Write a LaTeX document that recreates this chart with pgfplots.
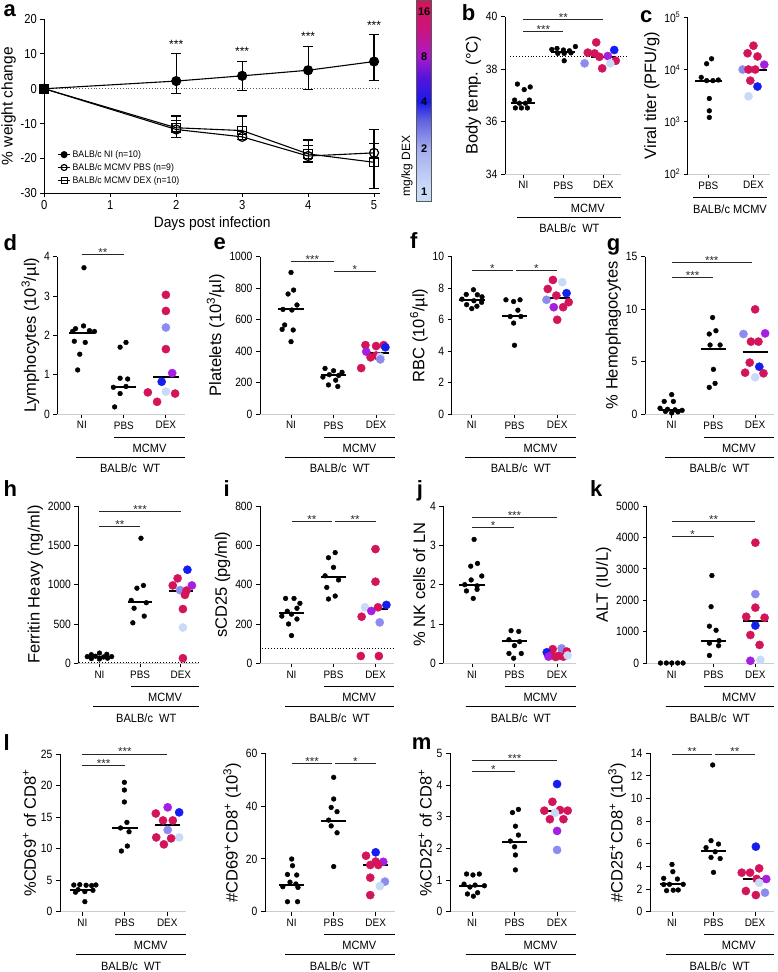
\documentclass[border=0pt]{standalone}
\usepackage{fontspec}
\setmainfont{Liberation Sans}
\newfontfamily\tickfam{Liberation Sans}[FakeStretch=0.86]
\newfontfamily\hfam{Liberation Sans}[FakeStretch=0.92]
\usepackage{pgfplots}
\pgfplotsset{compat=1.18}
\definecolor{c16}{RGB}{212,20,90}
\definecolor{c8}{RGB}{165,30,225}
\definecolor{c4}{RGB}{20,30,240}
\definecolor{c2}{RGB}{140,140,240}
\definecolor{c1}{RGB}{200,218,248}
\definecolor{cbA}{RGB}{165,172,238}
\definecolor{cbB}{RGB}{95,95,225}
\definecolor{cbC}{RGB}{25,25,235}
\definecolor{cbD}{RGB}{90,20,220}
\definecolor{cbE}{RGB}{170,25,200}
\definecolor{cbF}{RGB}{205,20,120}
\definecolor{cbG}{RGB}{212,20,90}
\pgfdeclareverticalshading{dexbar}{100bp}{color(0bp)=(c1); color(28.7bp)=(c1); color(38.1bp)=(cbA); color(45.4bp)=(cbB); color(49.9bp)=(cbC); color(56.1bp)=(cbD); color(61.1bp)=(cbE); color(68.5bp)=(cbF); color(75bp)=(cbG); color(100bp)=(cbG)}
\newcommand\tickfont{\tickfam\fontsize{12}{13}\selectfont}
\newcommand\catfont{\hfam\fontsize{10.8}{12}\selectfont}
\newcommand\grpfont{\hfam\fontsize{12}{13}\selectfont}
\newcommand\ylabfont{\fontsize{16.5}{18}\selectfont}
\newcommand\starfont{\fontsize{11.5}{12}\selectfont}
\newcommand\panelfont{\bfseries\fontsize{22}{24}\selectfont}
\pgfplotsset{
 base/.style={scale only axis, anchor=south west, clip=false,
   axis x line*=bottom, axis y line*=left,
   tick align=outside, major tick length=4pt,
   /pgf/number format/assume math mode=true, /pgf/number format/1000 sep={},
   scaled y ticks=false, yticklabel style={font=\tickfont}, ylabel style={font=\ylabfont},
   ylabel shift=-2pt,
   y axis line style={line width=1pt}, ytick style={line width=0.9pt, black}},
 cat/.style={base, x axis line style={gray!40, line width=0.6pt}, xtick style={black,line width=0.8pt},
   xtick={0,1,2}, xticklabels={NI,PBS,DEX}, xmax=2.45, xticklabel style={font=\catfont},
   height=157.3pt},
 blk/.style={only marks, mark=*, mark size=2.4pt, black},
 dex/.style={scatter, only marks, mark=*, mark size=4.1pt, point meta=explicit symbolic,
   scatter/classes={k16={mark=*,draw=c16,fill=c16}, k8={mark=*,draw=c8,fill=c8}, k4={mark=*,draw=c4,fill=c4}, k2={mark=*,draw=c2,fill=c2}, k1={mark=*,draw=c1,fill=c1}}},
 med/.style={black, line width=2pt, forget plot},
}
\newcommand\sig[4]{\draw[line width=0.8pt, black!85] (axis cs:#1,#3) -- (axis cs:#2,#3) node[midway, anchor=base, yshift=-2pt, font=\starfont, inner sep=0pt] {#4};}
\newcommand\grp[1]{%
 \draw[line width=0.9pt] ([yshift=-23pt]axis cs:0.77,#1) -- ([yshift=-23pt]axis cs:2.45,#1);
 \node[font=\grpfont, inner sep=0.5pt] at ([yshift=-34pt]axis cs:1.61,#1) {MCMV};
 \draw[line width=0.9pt] ([yshift=-43pt]axis cs:-0.15,#1) -- ([yshift=-43pt]axis cs:2.45,#1);
 \node[font=\grpfont, inner sep=0.5pt] at ([yshift=-54.5pt]axis cs:1.15,#1) {BALB/c\ \ WT};}
\newcommand\meds[3]{\addplot[med] coordinates {(-0.3,#1)(0.3,#1)};\addplot[med] coordinates {(0.7,#2)(1.3,#2)};\addplot[med] coordinates {(1.7,#3)(2.3,#3)};}
\begin{document}
\begin{tikzpicture}
\useasboundingbox (0,0) rectangle (778pt,-972pt);
% ---------------- panel a
\begin{axis}[base, at={(44.3pt,-193.3pt)}, width=335.7pt, height=174.3pt,
  xmin=0, xmax=5.09, ymin=-30, ymax=20, xtick={0,...,5}, ytick={-30,-20,...,20},
  x axis line style={line width=1pt}, xtick style={line width=0.9pt,black},
  xticklabel style={font=\tickfam\fontsize{13}{14}\selectfont},
  yticklabel style={font=\tickfam\fontsize{13}{14}\selectfont},
  xlabel={Days post infection}, xlabel style={font=\hfam\fontsize{15}{16}\selectfont},
  ylabel={\% weight change}, ylabel style={font=\fontsize{15.5}{17}\selectfont},
  legend style={at={(0.03,0.27)}, anchor=north west, draw=none, fill=none,
    font=\hfam\fontsize{9.5}{10}\selectfont, row sep=0.5pt},
  legend cell align=left, reverse legend,
  legend image code/.code={\draw[mark repeat=2,mark phase=2,#1,mark size=3pt] plot coordinates {(0pt,0pt) (6pt,0pt) (12pt,0pt)};},
  error bars/error bar style={line width=1.2pt},
  error bars/error mark options={rotate=90, mark size=5pt, line width=1.2pt}]
\draw[dotted, line width=0.9pt, gray!70!black] (axis cs:0,0) -- (axis cs:5.09,0);
\addplot[black, line width=1.1pt, mark=square, mark size=4.3pt, mark options={fill=white, line width=1.2pt, solid},
  error bars/.cd, y dir=both, y explicit]
  coordinates {(0,0) (2,-11.2) += (0,3.4) -= (0,2.7) (3,-12.0) += (0,4.2) -= (0,2.5) (4,-18.7) += (0,4.0) -= (0,2.5) (5,-21.1) += (0,5.4) -= (0,7.5)};
\addlegendentry{BALB/c MCMV DEX (n=10)}
\addplot[black, line width=1.1pt, mark=o, mark size=4.5pt, mark options={fill=white, line width=1.2pt, solid},
  error bars/.cd, y dir=both, y explicit]
  coordinates {(0,0) (2,-11.7) += (0,2.5) -= (0,2.2) (3,-13.8) += (0,1.5) -= (0,0.8) (4,-19.3) += (0,3.0) -= (0,1.5) (5,-18.4) += (0,6.8) -= (0,4.0)};
\addlegendentry{BALB/c MCMV PBS (n=9)}
\addplot[black, line width=1.1pt, mark=*, mark size=4.5pt,
  error bars/.cd, y dir=both, y explicit]
  coordinates {(0,0) (2,2.2) += (0,8.0) -= (0,3.6) (3,3.7) += (0,4.2) -= (0,4.2) (4,5.3) += (0,6.7) -= (0,5.6) (5,7.8) += (0,7.8) -= (0,5.4)};
\addlegendentry{BALB/c NI (n=10)}
\node[font=\fontsize{12}{13}\selectfont, anchor=base] at (axis cs:2,11.6) {***};
\node[font=\fontsize{12}{13}\selectfont, anchor=base] at (axis cs:3,9.5) {***};
\node[font=\fontsize{12}{13}\selectfont, anchor=base] at (axis cs:4,13.7) {***};
\node[font=\fontsize{12}{13}\selectfont, anchor=base] at (axis cs:5,17.1) {***};
\end{axis}
% colour bar
\shade[shading=dexbar, draw=gray!70!black, line width=0.5pt] (416.7pt,-0.5pt) rectangle (431.7pt,-201.7pt);
\foreach \v/\yy in {16/12,8/57,4/102,2/149,1/192}{\node[font=\bfseries\fontsize{11}{12}\selectfont] at (424.2pt,-\yy pt) {\v};}
\node[rotate=90, font=\fontsize{12}{13}\selectfont] at (407pt,-166pt) {mg/kg DEX};
% ---------------- panel b
\begin{axis}[cat, at={(505pt,-174pt)}, width=116.4pt, xmin=-0.46, ymin=34, ymax=40, ytick={34,36,38,40}, ylabel={Body temp. (°C)}]
\draw[dotted, line width=0.9pt] (axis cs:-0.33,38.5) -- (axis cs:2.58,38.5);
\addplot[blk] coordinates {(-0.15,37.43) (0.02,37.22) (0.17,37.32) (-0.22,36.82) (0.15,36.82) (-0.1,36.7) (0.05,36.7) (-0.2,36.52) (-0.05,36.52) (0.1,36.52)};
\addplot[blk] coordinates {(0.71,38.75) (0.84,38.79) (1,38.73) (1.15,38.70) (1.3,38.86) (0.86,38.6) (1.02,38.6) (1.19,38.62) (1.02,38.32)};
\addplot[dex] table[meta=c,row sep=\\]{x y c\\ 1.82 39.02 k16\\ 2.27 38.73 k4\\ 1.61 38.63 k16\\ 1.78 38.6 k16\\ 1.9 38.47 k16\\ 2.11 38.5 k8\\ 2.31 38.32 k16\\ 1.53 38.22 k2\\ 2.17 38.22 k1\\ 1.97 38.03 k16\\};
\meds{36.7}{38.67}{38.47}
\sig{0}{1}{39.43}{***}
\sig{0}{2}{39.91}{**}
\grp{34}
\end{axis}
% ---------------- panel c
\begin{axis}[base, at={(687.7pt,-174pt)}, width=82.4pt, height=156.7pt, xmin=-0.46, xmax=1.37,
  ymode=log, ymin=100, ymax=100000, ytick={100,1000,10000,100000},
  yticklabels={10\textsuperscript{2},10\textsuperscript{3},10\textsuperscript{4},10\textsuperscript{5}},
  minor tick style={draw=none}, x axis line style={gray!40,line width=0.6pt}, xtick style={black,line width=0.8pt},
  xtick={0,1}, xticklabels={PBS,DEX}, xticklabel style={font=\catfont}, ylabel={Viral titer (PFU/g)}]
\addplot[blk] coordinates {(0.07,16070) (-0.04,12900) (-0.16,7080) (-0.04,6130) (0.1,6130) (0.22,6300) (0.02,2790) (0.02,1620) (0.02,1210)};
\addplot[dex] table[meta=c,row sep=\\]{x y c\\ 1 28600 k16\\ 0.87 20500 k16\\ 1.09 17800 k16\\ 1.24 12400 k8\\ 0.76 10000 k2\\ 0.89 10000 k16\\ 1.04 10000 k16\\ 0.93 6130 k16\\ 1.09 4730 k4\\ 0.89 3070 k1\\};
\addplot[med] coordinates {(-0.3,6130)(0.3,6130)};
\addplot[med] coordinates {(0.7,10000)(1.3,10000)};
\draw[line width=0.9pt] ([yshift=-23pt]axis cs:-0.34,100) -- ([yshift=-23pt]axis cs:1.30,100);
\node[font=\grpfont] at ([yshift=-35pt]axis cs:0.48,100) {BALB/c MCMV};
\end{axis}
% ---------------- panel d
\begin{axis}[cat, at={(57.5pt,-414pt)}, width=127.3pt, xmin=-0.58, ymin=0, ymax=4, ytick={0,1,2,3,4}, ylabel={Lymphocytes (10\textsuperscript{3}/µl)}]
\addplot[blk] coordinates {(0.05,3.72) (-0.15,2.17) (0.04,2.24) (0.18,2.12) (-0.22,2.1) (0.3,2.1) (-0.18,1.85) (0.08,1.82) (-0.05,1.52) (-0.1,1.12)};
\addplot[blk] coordinates {(1.05,1.82) (0.91,1.7) (0.91,0.91) (1.09,0.89) (0.75,0.68) (1.05,0.7) (0.91,0.52) (0.78,0.18)};
\addplot[dex] table[meta=c,row sep=\\]{x y c\\ 2 3.03 k16\\ 2 2.62 k16\\ 2 2.2 k2\\ 2 1.65 k16\\ 2.15 1.04 k8\\ 1.9 0.82 k4\\ 2 0.57 k1\\ 1.57 0.55 k16\\ 2.22 0.52 k16\\ 1.79 0.31 k16\\};
\meds{2.07}{0.68}{0.93}
\sig{0}{1}{4.06}{**}
\grp{0}
\end{axis}
% ---------------- panel e
\begin{axis}[cat, at={(260pt,-414pt)}, width=135.2pt, xmin=-0.73, ymin=0, ymax=1000, ytick={0,200,...,1000}, ylabel={Platelets (10\textsuperscript{3}/µl)}]
\addplot[blk] coordinates {(0,900) (0.06,788) (-0.07,763) (0.14,693) (-0.19,665) (0.02,661) (-0.15,566) (0.05,534) (-0.21,538) (0,460)};
\addplot[blk] coordinates {(0.8,290) (1.0,275) (1.2,265) (0.9,250) (1.12,245) (0.75,235) (1.05,215) (0.88,185) (1.1,175)};
\addplot[dex] table[meta=c,row sep=\\]{x y c\\ 1.75 438 k16\\ 2 432 k16\\ 2.18 438 k16\\ 1.77 396 k8\\ 2.22 424 k4\\ 1.87 360 k16\\ 2.0 372 k16\\ 2.1 364 k1\\ 2.1 347 k2\\ 1.65 292 k16\\};
\meds{665}{245}{390}
\sig{0}{1}{972}{***}
\sig{1}{2}{905}{*}
\grp{0}
\end{axis}
% ---------------- panel f
\begin{axis}[cat, at={(451.7pt,-414pt)}, width=124.7pt, xmin=-0.47, ymin=0, ymax=10, ytick={0,2,...,10}, ylabel={RBC (10\textsuperscript{6}/µl)}]
\addplot[blk] coordinates {(0.04,7.9) (-0.13,7.6) (0.13,7.58) (0.24,7.45) (-0.23,7.3) (0.05,7.2) (0.23,7.1) (-0.12,6.95) (0.12,6.85) (0,6.7)};
\addplot[blk] coordinates {(0.8,7.26) (0.98,7.15) (1.13,7.26) (1.08,6.6) (0.9,6.2) (1.15,6.2) (0.98,5.78) (1.0,4.37)};
\addplot[dex] table[meta=c,row sep=\\]{x y c\\ 1.9 8.52 k16\\ 2.12 8.38 k1\\ 1.78 7.95 k16\\ 2.22 7.68 k4\\ 1.98 7.53 k16\\ 1.75 7.26 k2\\ 2.27 7.11 k16\\ 1.92 6.79 k8\\ 2.14 6.79 k16\\ 2 5.99 k16\\};
\meds{7.25}{6.2}{7.35}
\sig{0}{0.97}{9.11}{*}
\sig{1.03}{2}{9.11}{*}
\grp{0}
\end{axis}
% ---------------- panel g
\begin{axis}[cat, at={(645pt,-414pt)}, width=128.9pt, xmin=-0.64, ymin=0, ymax=15, ytick={0,5,10,15}, ylabel={\% Hemophagocytes}]
\addplot[blk] coordinates {(0,1.85) (-0.18,1.2) (0.04,1.2) (-0.28,0.55) (-0.1,0.45) (0.08,0.4) (0.25,0.35) (-0.15,0.25) (0.15,0.2) (0,0.1)};
\addplot[blk] coordinates {(0.98,9.2) (1.06,7.94) (0.9,7.63) (0.92,6.58) (1.16,6.58) (1.0,4.26) (1.04,2.92) (0.9,2.54)};
\addplot[dex] table[meta=c,row sep=\\]{x y c\\ 2 9.98 k16\\ 1.72 7.63 k2\\ 2.24 7.69 k8\\ 1.9 6.9 k16\\ 2.08 6.9 k16\\ 1.87 4.9 k16\\ 2.1 4.51 k4\\ 1.76 3.94 k16\\ 2.2 3.88 k16\\ 2 3.5 k1\\};
\meds{0.4}{6.16}{5.88}
\sig{0}{1}{13.0}{***}
\sig{0}{1.92}{14.43}{***}
\grp{0}
\end{axis}
% ---------------- panel h
\begin{axis}[cat, at={(78.3pt,-663.3pt)}, width=120.9pt, xmin=-0.52, ymin=0, ymax=2000, ytick={0,500,...,2000}, ylabel={Ferritin Heavy (ng/ml)}]
\draw[dotted, line width=0.9pt] (axis cs:-0.5,8) -- (axis cs:2.45,8);
\addplot[blk] coordinates {(0,130) (-0.2,110) (0.18,115) (-0.3,85) (-0.1,90) (0.1,80) (0.3,85) (-0.2,60) (0,55) (0.2,65)};
\addplot[blk] coordinates {(1.02,1590) (1.08,990) (0.92,955) (0.78,800) (1.15,770) (0.85,700) (1.1,600) (0.82,515)};
\addplot[dex] table[meta=c,row sep=\\]{x y c\\ 2.16 1190 k4\\ 1.92 1080 k16\\ 1.8 990 k16\\ 2.27 990 k8\\ 1.98 930 k2\\ 2.14 925 k16\\ 2.1 870 k16\\ 2.05 690 k16\\ 2.05 455 k1\\ 2.05 65 k16\\};
\meds{80}{784}{925}
\sig{0}{1}{1737}{**}
\sig{0}{2}{1928}{***}
\grp{0}
\end{axis}
% ---------------- panel i
\begin{axis}[cat, at={(260pt,-663.3pt)}, width=134.4pt, xmin=-0.75, ymin=0, ymax=800, ytick={0,200,...,800}, ylabel={sCD25 (pg/ml)}]
\draw[dotted, line width=0.9pt] (axis cs:-0.7,75) -- (axis cs:2.45,75);
\addplot[blk] coordinates {(-0.14,330) (0.06,330) (0.2,305) (0.13,280) (-0.1,265) (0,250) (-0.23,240) (0.13,225) (-0.07,200) (0,141)};
\addplot[blk] coordinates {(1.04,563) (0.88,537) (1,488) (0.8,445) (1.12,424) (0.84,386) (1.04,342) (0.88,327)};
\addplot[dex] table[meta=c,row sep=\\]{x y c\\ 2 581 k16\\ 2 415 k16\\ 1.75 285 k1\\ 2.06 285 k16\\ 2.26 297 k4\\ 1.9 266 k8\\ 1.67 237 k16\\ 2.1 208 k2\\ 1.65 37 k16\\ 2.08 37 k16\\};
\meds{258}{440}{275}
\sig{0}{0.97}{720}{**}
\sig{1.03}{2}{720}{**}
\grp{0}
\end{axis}
% ---------------- panel j
\begin{axis}[cat, at={(443.3pt,-663.3pt)}, width=132.8pt, xmin=-0.675, ymin=0, ymax=4, ytick={0,1,2,3,4}, ylabel={\% NK cells of LN}]
\addplot[blk] coordinates {(0.05,3.15) (0.13,2.54) (-0.03,2.47) (0.23,2.22) (-0.02,2.12) (0.12,1.97) (-0.17,2.0) (0.12,1.88) (-0.13,1.84) (0.03,1.65)};
\addplot[blk] coordinates {(0.92,0.83) (1.1,0.81) (0.87,0.6) (1.12,0.55) (1,0.45) (0.87,0.25) (1.16,0.25) (0.98,0.13)};
\addplot[dex] table[meta=c,row sep=\\]{x y c\\ 2.11 0.38 k2\\ 1.9 0.36 k16\\ 2.23 0.3 k16\\ 1.76 0.28 k4\\ 1.88 0.21 k16\\ 2.04 0.19 k16\\ 1.8 0.17 k8\\ 2.15 0.17 k16\\ 1.97 0.16 k16\\ 2.25 0.2 k1\\};
\meds{2.0}{0.58}{0.2}
\sig{0}{1}{3.45}{*}
\sig{0}{2}{3.70}{***}
\grp{0}
\end{axis}
% ---------------- panel k
\begin{axis}[cat, at={(646.7pt,-663.3pt)}, width=127.5pt, xmin=-0.6, ymin=0, ymax=5000, ytick={0,1000,...,5000}, ylabel={ALT (IU/L)}]
\addplot[blk] coordinates {(-0.27,10) (-0.13,10) (0,10) (0.14,10) (0.27,10)};
\addplot[blk] coordinates {(0.96,2790) (0.94,1800) (0.9,1180) (1.06,1050) (1.13,720) (0.9,640) (1.12,560) (0.9,250)};
\addplot[dex] table[meta=c,row sep=\\]{x y c\\ 2 3835 k16\\ 2 2200 k2\\ 2 1770 k16\\ 1.78 1480 k16\\ 2.22 1450 k16\\ 2 1200 k4\\ 1.88 900 k16\\ 2.1 585 k16\\ 1.88 80 k8\\ 2.12 110 k1\\};
\addplot[med] coordinates {(0.7,720)(1.3,720)};
\addplot[med] coordinates {(1.7,1330)(2.3,1330)};
\sig{0}{1}{4025}{*}
\sig{0}{2}{4502}{**}
\grp{0}
\end{axis}
% ---------------- panel l (left)
\begin{axis}[cat, at={(60pt,-911.7pt)}, width=126.4pt, height=157.4pt, xmin=-0.525, ymin=0, ymax=25, ytick={0,5,...,25}, ylabel={\%CD69\textsuperscript{+} of CD8\textsuperscript{+}}]
\addplot[blk] coordinates {(-0.2,4.24) (-0.06,4.3) (0.09,4.2) (0.22,4.15) (0.32,4.25) (-0.16,3.1) (0.06,3.2) (0.25,3.4) (-0.1,3.5) (0.06,1.6)};
\addplot[blk] coordinates {(0.99,20.55) (0.99,19.33) (0.99,17.43) (1.05,14.19) (0.9,13.3) (1.1,12.7) (1.06,10.43) (0.92,9.64)};
\addplot[dex] table[meta=c,row sep=\\]{x y c\\ 2.01 16.58 k8\\ 2.28 15.78 k4\\ 1.73 15.6 k16\\ 1.9 14.5 k16\\ 2.13 14.5 k16\\ 2.01 12.98 k2\\ 2.28 11.8 k1\\ 1.74 11.8 k16\\ 2.09 11.65 k16\\ 1.92 10.7 k16\\};
\meds{3.45}{13.35}{13.77}
\sig{0}{1}{23.2}{***}
\sig{0}{2}{25.05}{***}
\grp{0}
\end{axis}
% ---------------- panel l (right)
\begin{axis}[cat, at={(265pt,-911.7pt)}, width=129.6pt, height=158.4pt, xmin=-0.635, ymin=0, ymax=60, ytick={0,20,40,60}, ylabel={\#CD69\textsuperscript{+}CD8\textsuperscript{+} (10\textsuperscript{3})}]
\addplot[blk] coordinates {(0,19.96) (0.02,17.43) (-0.1,14.1) (0.12,13.9) (-0.04,11.2) (0.1,10.5) (-0.21,9.47) (0.15,9.2) (-0.1,3.79) (0.14,3.79)};
\addplot[blk] coordinates {(1,50.9) (1,42.7) (0.94,39.5) (1.08,37.9) (0.88,34.7) (0.94,32.5) (1.08,29.9) (1,17.1)};
\addplot[dex] table[meta=c,row sep=\\]{x y c\\ 2 22.5 k4\\ 1.77 21.2 k16\\ 2.18 18.9 k8\\ 1.87 17.7 k16\\ 2.06 17.7 k16\\ 2.0 19.0 k16\\ 1.87 12.9 k16\\ 2.22 11.4 k2\\ 2.1 9.7 k1\\ 1.87 6.3 k16\\};
\meds{10.2}{34.4}{17.7}
\sig{0}{0.97}{56.2}{***}
\sig{1.03}{2}{56.2}{*}
\grp{0}
\end{axis}
% ---------------- panel m (left)
\begin{axis}[cat, at={(450pt,-911.7pt)}, width=126.2pt, height=158.4pt, xmin=-0.52, ymin=0, ymax=5, ytick={0,1,...,5}, ylabel={\%CD25\textsuperscript{+} of CD8\textsuperscript{+}}]
\addplot[blk] coordinates {(-0.13,1.19) (0.02,1.16) (0.17,1.19) (-0.19,0.87) (0.07,0.84) (0.29,0.82) (-0.05,0.78) (0.13,0.6) (-0.11,0.56) (0.03,0.49)};
\addplot[blk] coordinates {(1.09,3.23) (0.95,3.13) (1.02,2.7) (1.09,2.42) (0.9,2.23) (1.0,2.05) (1.02,1.79) (1.02,1.32)};
\addplot[dex] table[meta=c,row sep=\\]{x y c\\ 2 4.03 k4\\ 1.89 3.47 k16\\ 1.7 3.19 k16\\ 2.07 3.21 k16\\ 2.25 3.19 k16\\ 1.95 3.12 k1\\ 2.15 2.92 k16\\ 1.83 2.92 k16\\ 2 2.55 k8\\ 2 1.95 k2\\};
\meds{0.8}{2.21}{3.19}
\sig{0}{1}{4.42}{*}
\sig{0}{2}{4.77}{***}
\grp{0}
\end{axis}
% ---------------- panel m (right)
\begin{axis}[cat, at={(650pt,-911.7pt)}, width=123.7pt, height=158.4pt, xmin=-0.53, ymin=0, ymax=14, ytick={0,2,...,14}, ylabel={\#CD25\textsuperscript{+}CD8\textsuperscript{+} (10\textsuperscript{3})}]
\addplot[blk] coordinates {(0,4.18) (0.02,3.54) (-0.2,2.95) (0.13,2.89) (-0.06,2.42) (0.27,2.42) (-0.2,2.4) (0.03,1.9) (-0.13,1.86) (0.15,1.92)};
\addplot[blk] coordinates {(0.98,12.97) (0.94,6.28) (1.12,5.98) (0.82,5.66) (1.04,5.3) (0.94,4.8) (1.16,4.7) (1,3.48)};
\addplot[dex] table[meta=c,row sep=\\]{x y c\\ 2.02 5.75 k4\\ 2.1 3.83 k16\\ 1.68 3.45 k16\\ 1.88 3.45 k16\\ 2.27 2.89 k8\\ 2.04 2.9 k16\\ 2.1 2.56 k1\\ 1.78 1.83 k16\\ 2.24 1.68 k2\\ 2.02 1.47 k16\\};
\meds{2.42}{5.36}{2.86}
\sig{0}{0.97}{13.94}{**}
\sig{1.03}{2}{13.94}{**}
\grp{0}
\end{axis}
% panel letters
\foreach \l/\xx/\yy in {a/3.3/16, b/461.7/20, c/640/22.7, d/3.3/250, e/213.3/249.3, f/410/248.3, g/606.7/250.7, h/3.3/496.7, i/223.3/496.7, j/416.7/496.7, k/590/496.7, l/3.3/750, m/411.7/749.3}{\node[font=\panelfont, anchor=base west, inner sep=0pt] at (\xx pt,-\yy pt) {\l};}
\end{tikzpicture}
\end{document}
